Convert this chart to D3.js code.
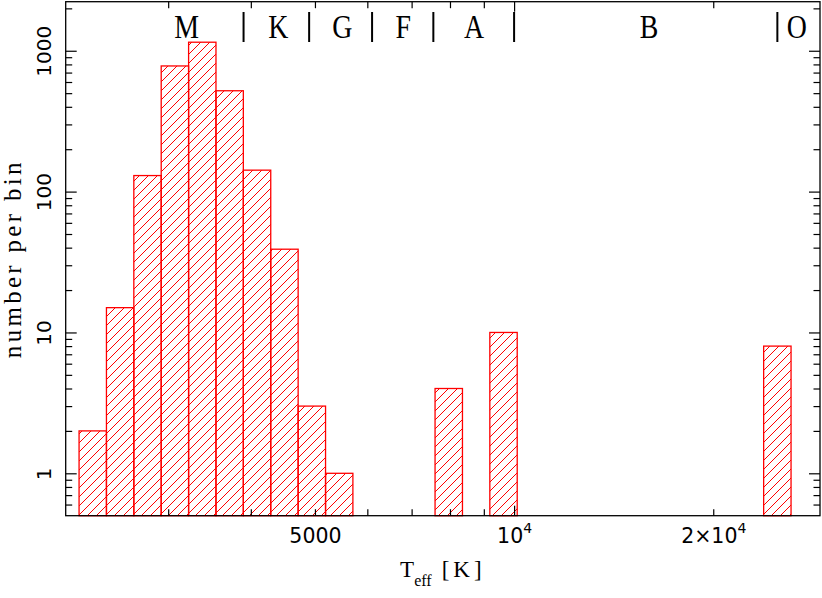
<!DOCTYPE html>
<html>
<head>
<meta charset="utf-8">
<script src="https://cdn.jsdelivr.net/npm/d3@7"></script>
<style>
  body { margin: 0; background: #fff; }
  svg { display: block; }
</style>
</head>
<body>
<svg id="chart" width="822" height="598"></svg>
<script>

// histogram bins, constant width in log T (factor 1.1 each), empty bins left out
var binLo = [2200, 2420, 2662, 2928, 3221, 3543, 3897, 4287, 4716, 5188, 7595, 9190, 23836]
var binHi = [2420, 2662, 2928, 3221, 3543, 3897, 4287, 4716, 5188, 5706, 8355, 10109, 26220]
var counts = [2, 15, 130, 780, 1150, 520, 142, 39, 3, 1, 4, 10, 8]

// spectral classes along the top
var classNames = ['M', 'K', 'G', 'F', 'A', 'B', 'O']
var classCentres = [3200, 4400, 5500, 6800, 8700, 16000, 26750]
var classBounds = [3900, 4900, 6100, 7550, 10000, 25000]

// labelled x ticks: [mantissa part, exponent]
var xLabelValues = [5000, 10000, 20000]
var xLabelText = [['5000', ''], ['10', '4'], ['2\u00d710', '4']]
var yLabelValues = [1, 10, 100, 1000]

var xTitle = ['T', 'eff', '[K]']
var yTitle = 'number per bin'

//
// Variables
//

var svg = d3.select('#chart')
// plot box (note: "top" is taken by window.top, so use px/py names)
var px0 = 65.7, px1 = 820, py0 = 1.7, py1 = 515.7
var red = '#ff0000'
var serif = '"Liberation Serif", "DejaVu Serif", serif'
var sans = '"DejaVu Sans", sans-serif'

var x = d3.scaleLog().domain([2100, 29000]).range([px0, px1])
var y = d3.scaleLog().domain([0.5, 2230]).range([py1, py0])

function isDecade(v) {
  var l = Math.log10(v)
  return Math.abs(l - Math.round(l)) < 1e-9
}

//
// Hatch pattern
//

var hatch = 9
svg.append('rect').attr('width', 822).attr('height', 598).attr('fill', '#fff')
svg.append('defs').append('pattern')
  .attr('id', 'hatch')
  .attr('patternUnits', 'userSpaceOnUse')
  .attr('width', hatch).attr('height', hatch)
  .append('path')
  .attr('d', 'M0,' + hatch + 'L' + hatch + ',0M-2,2L2,-2M' + (hatch - 2) + ',' + (hatch + 2) + 'L' + (hatch + 2) + ',' + (hatch - 2))
  .attr('stroke', red)
  .attr('stroke-width', 1)

//
// Bars
//

svg.append('g').selectAll('rect')
  .data(counts)
  .join('rect')
  .attr('x', function (d, i) { return x(binLo[i]) })
  .attr('width', function (d, i) { return x(binHi[i]) - x(binLo[i]) })
  .attr('y', function (d) { return y(d) })
  .attr('height', function (d) { return py1 - y(d) })
  .attr('fill', 'url(#hatch)')
  .attr('stroke', red)
  .attr('stroke-width', 1.3)

//
// Axes (ticks point inward on all four sides)
//

var xTicks = x.ticks()
var yTicks = y.ticks().filter(function (v) { return v > 0.5 })

function xAxis(axisFn, ypos, sign) {
  return svg.append('g')
    .attr('transform', 'translate(0,' + ypos + ')')
    .call(axisFn(x).tickValues(xTicks).tickSize(0).tickFormat(''))
    .call(function (g) { g.select('.domain').remove() })
    .call(function (g) {
      g.selectAll('.tick line')
        .attr('stroke', '#000')
        .attr('stroke-width', 1.2)
        .attr('y2', function (d) { return sign * (isDecade(d) ? 10 : 6.5) })
    })
}

function yAxis(axisFn, xpos, sign) {
  return svg.append('g')
    .attr('transform', 'translate(' + xpos + ',0)')
    .call(axisFn(y).tickValues(yTicks).tickSize(0).tickFormat(''))
    .call(function (g) { g.select('.domain').remove() })
    .call(function (g) {
      g.selectAll('.tick line')
        .attr('stroke', '#000')
        .attr('stroke-width', 1.2)
        .attr('x2', function (d) { return sign * (isDecade(d) ? 11 : 6.5) })
    })
}

var gBottom = xAxis(d3.axisBottom, py1, -1)
xAxis(d3.axisTop, py0, 1)
var gLeft = yAxis(d3.axisLeft, px0, 1)
yAxis(d3.axisRight, px1, -1)

gBottom.selectAll('.tick')
  .filter(function (d) { return xLabelValues.indexOf(d) >= 0 })
  .append('text')
  .attr('y', 27.3)
  .attr('text-anchor', 'middle')
  .attr('fill', '#000')
  .style('font-family', sans)
  .style('font-size', '20.5px')
  .each(function (d) {
    var t = xLabelText[xLabelValues.indexOf(d)]
    var txt = d3.select(this)
    txt.append('tspan').text(t[0])
    if (t[1]) {
      txt.append('tspan').attr('dy', -10).style('font-size', '14px').text(t[1])
    }
  })

gLeft.selectAll('.tick')
  .filter(function (d) { return yLabelValues.indexOf(d) >= 0 })
  .append('text')
  .attr('transform', 'translate(-14.7,0) rotate(-90)')
  .attr('text-anchor', 'middle')
  .attr('fill', '#000')
  .style('font-family', sans)
  .style('font-size', '20px')
  .text(function (d) { return d })

// frame
svg.append('rect')
  .attr('x', px0).attr('y', py0)
  .attr('width', px1 - px0).attr('height', py1 - py0)
  .attr('fill', 'none')
  .attr('stroke', '#000')
  .attr('stroke-width', 1.3)

//
// Spectral classes
//

svg.append('g').selectAll('text')
  .data(classNames)
  .join('text')
  .attr('transform', function (d, i) { return 'translate(' + x(classCentres[i]) + ',38) scale(0.82,1.02)' })
  .attr('text-anchor', 'middle')
  .style('font-family', serif)
  .style('font-size', '34px')
  .text(function (d) { return d })

// the "|" separators between classes
svg.append('g').selectAll('line')
  .data(classBounds)
  .join('line')
  .attr('x1', function (d) { return x(d) })
  .attr('x2', function (d) { return x(d) })
  .attr('y1', 12)
  .attr('y2', 42)
  .attr('stroke', '#000')
  .attr('stroke-width', 2)

//
// Titles
//

var xt = svg.append('text')
  .attr('x', (px0 + px1) / 2)
  .attr('y', 577)
  .attr('text-anchor', 'middle')
  .style('font-family', serif)
  .style('font-size', '23px')
xt.append('tspan').text(xTitle[0])
xt.append('tspan').attr('dy', 9).style('font-size', '16px').text(xTitle[1])
xt.append('tspan').attr('dy', -9).attr('dx', 10).style('letter-spacing', '4px').text(xTitle[2])

svg.append('text')
  .attr('transform', 'translate(21,' + (py0 + py1) / 2 + ') rotate(-90)')
  .attr('text-anchor', 'middle')
  .style('font-family', serif)
  .style('font-size', '25px')
  .style('letter-spacing', '3.3px')
  .text(yTitle)

</script>
</body>
</html>
